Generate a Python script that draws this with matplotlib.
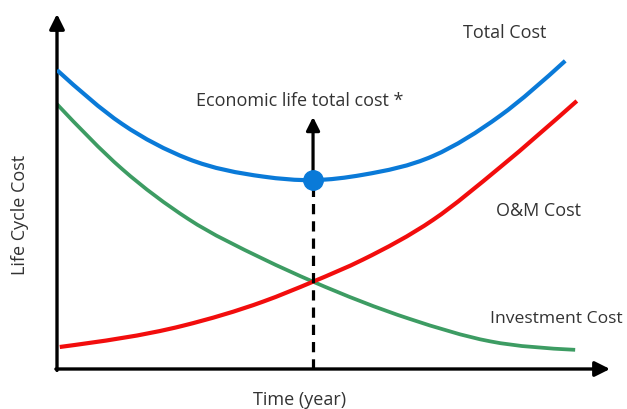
import matplotlib
matplotlib.use("Agg")
import numpy as np
import matplotlib.pyplot as plt
from matplotlib.path import Path
from matplotlib.patches import PathPatch

# cost curves over time (arbitrary units)
time_total = [0, 1.18, 2.37, 3.73, 4.63, 5.53, 6.80, 8.01, 9.19]
total_cost = [8.42, 6.90, 5.92, 5.42, 5.32, 5.47, 6.00, 7.13, 8.68]

time_invest = [0, 1.18, 2.37, 3.73, 4.63, 6.38, 7.83, 9.37]
invest_cost = [7.46, 5.63, 4.23, 3.10, 2.46, 1.41, 0.78, 0.54]

time_om = [0.05, 2.28, 3.73, 4.63, 5.53, 6.80, 8.01, 9.40]
om_cost = [0.62, 1.22, 1.90, 2.46, 3.08, 4.20, 5.68, 7.55]

econ_life = 4.63
econ_cost = 5.32
arrow_top = 7.10

BLUE = "#0a7ad8"
RED = "#f20d0d"
GREEN = "#3d9c63"
TXT = "#333333"


def smooth_path(xs, ys):
    """Cubic Hermite through the points (x-aware slopes), as bezier segments."""
    x = np.asarray(xs, float)
    y = np.asarray(ys, float)
    h = np.diff(x)
    d = np.diff(y) / h
    m = np.empty_like(y)
    m[1:-1] = (d[:-1] * h[1:] + d[1:] * h[:-1]) / (h[:-1] + h[1:])
    m[0] = 1.5 * d[0] - 0.5 * m[1]
    m[-1] = 1.5 * d[-1] - 0.5 * m[-2]
    verts = [(x[0], y[0])]
    codes = [Path.MOVETO]
    for i in range(len(h)):
        verts += [(x[i] + h[i] / 3, y[i] + m[i] * h[i] / 3),
                  (x[i + 1] - h[i] / 3, y[i + 1] - m[i + 1] * h[i] / 3),
                  (x[i + 1], y[i + 1])]
        codes += [Path.CURVE4] * 3
    return Path(verts, codes)


def draw_curve(ax, xs, ys, color, lw, z):
    ax.add_patch(PathPatch(smooth_path(xs, ys), fill=False, edgecolor=color, lw=lw,
                           capstyle="butt", joinstyle="round", zorder=z))


plt.rcParams["font.family"] = ["Open Sans", "DejaVu Sans"]

fig = plt.figure(figsize=(6.27, 4.10), dpi=100)
ax = fig.add_axes([57 / 627, 40 / 410, 553 / 627, 355 / 410])
ax.set_xlim(0, 10)
ax.set_ylim(0, 10)
ax.axis("off")

# axes drawn as arrows
arrow_kw = dict(arrowstyle="-|>,head_length=0.9,head_width=0.45", lw=2.4, color="black",
                shrinkA=0, shrinkB=0)
ax.annotate("", xy=(1.0, 0), xytext=(-0.002, 0), xycoords="axes fraction",
            arrowprops=arrow_kw, annotation_clip=False)
ax.annotate("", xy=(0, 1.0), xytext=(0, -0.004), xycoords="axes fraction",
            arrowprops=arrow_kw, annotation_clip=False)

draw_curve(ax, time_invest, invest_cost, GREEN, 2.7, 2)
draw_curve(ax, time_om, om_cost, RED, 3.0, 3)
draw_curve(ax, time_total, total_cost, BLUE, 3.0, 3)

# economic life marker
ax.plot([econ_life, econ_life], [0, econ_cost], color="black", lw=2.3,
        linestyle=(0, (3.2, 2.2)), zorder=4)
ax.annotate("", xy=(econ_life, arrow_top), xytext=(econ_life, econ_cost),
            arrowprops=dict(arrowstyle="-|>,head_length=0.8,head_width=0.4", lw=2.3,
                            color="black", shrinkA=0, shrinkB=0), zorder=4)
ax.plot([econ_life], [econ_cost], "o", color=BLUE, ms=14, zorder=5)

fs = 13
ax.text(8.10, 9.48, "Total Cost", fontsize=fs, color=TXT, ha="center", va="center")
ax.text(4.39, 7.58, "Economic life total cost *", fontsize=fs, color=TXT,
        ha="center", va="center")
ax.text(8.70, 4.48, "O&M Cost", fontsize=fs, color=TXT, ha="center", va="center")
ax.text(10.22, 1.43, "Investment Cost", fontsize=12.6, color=TXT, ha="right", va="center",
        clip_on=False)
ax.text(4.39, -1.00, "Time (year)", fontsize=fs, color=TXT, ha="center", va="baseline",
        clip_on=False)
ax.text(-0.67, 4.37, "Life Cycle Cost", fontsize=fs, color=TXT, ha="center", va="center",
        rotation=90, clip_on=False)

fig.savefig("out.png", dpi=100)
